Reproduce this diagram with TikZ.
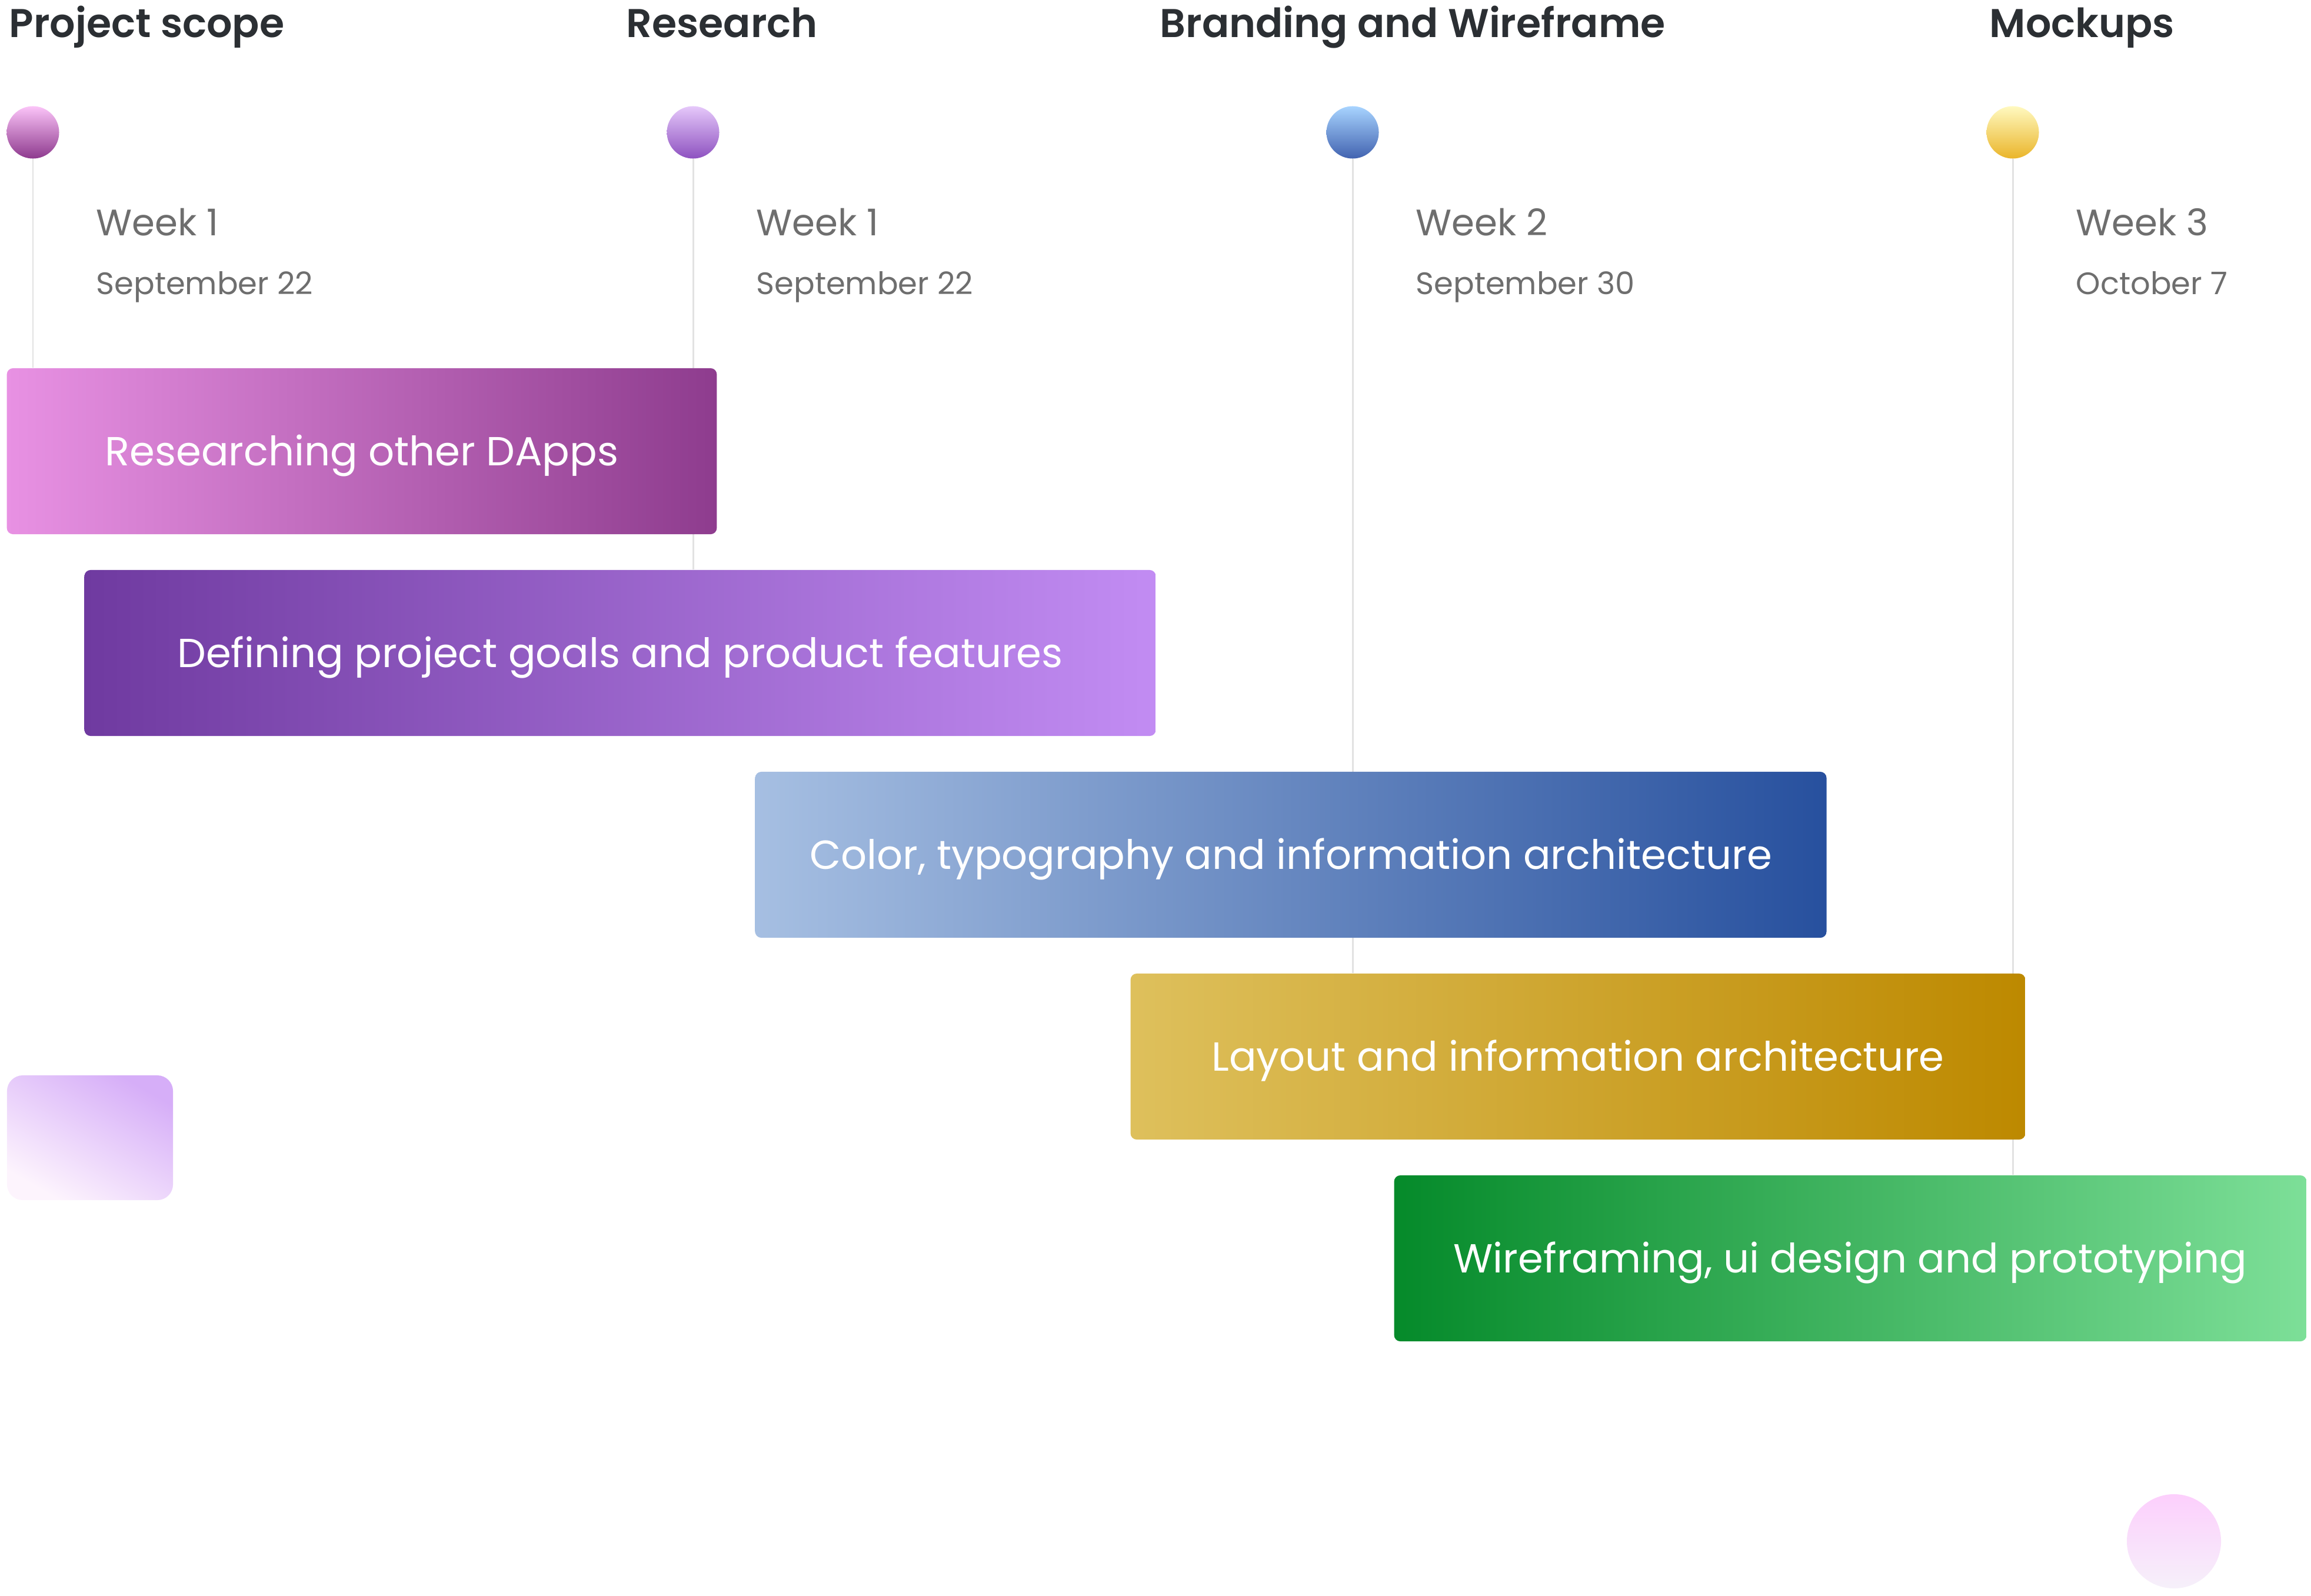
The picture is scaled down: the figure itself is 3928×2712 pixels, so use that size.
\documentclass[tikz,border=0pt]{standalone}
\usepackage{fontspec}
\setmainfont{Poppins}
\newfontfamily\headfont{Poppins SemiBold}
\usetikzlibrary{backgrounds}

\definecolor{headdark}{HTML}{2B2F33}
\definecolor{weekgray}{HTML}{6E6E6E}
\definecolor{railgray}{HTML}{E2E2E2}

\tikzset{
    heading/.style={anchor=base west, inner sep=0pt, text=headdark, font=\headfont\fontsize{19.4}{23}\selectfont},
    week/.style={anchor=base west, inner sep=0pt, text=weekgray, font=\fontsize{17.8}{21}\selectfont},
    date/.style={anchor=base west, inner sep=0pt, text=weekgray, font=\fontsize{15}{18}\selectfont},
    dot/.style={circle, minimum size=0.89cm, inner sep=0pt},
    bar/.style={rounded corners=3pt, minimum height=2.82cm, inner sep=0pt, text=white,
        font=\fontsize{19.6}{24}\selectfont, text height=13.8pt, text depth=0pt},
    rail/.style={draw=railgray, line width=0.85pt}
}

\begin{document}
\begin{tikzpicture}[x=0.01cm, y=-0.01cm]
    \useasboundingbox (0, 0) rectangle (3928, 2712);

    % phase headings
    \node[heading] (head1) at (15, 64) {Project scope};
    \node[heading] (head2) at (1064, 64) {Research};
    \node[heading] (head3) at (1971, 64) {Branding and Wireframe};
    \node[heading] (head4) at (3381, 64) {Mockups};

    % milestone dots
    \node[dot, top color={rgb,255:red,251;green,196;blue,248}, bottom color={rgb,255:red,142;green,58;blue,142}] (dot1) at (56, 225) {};
    \node[dot, top color={rgb,255:red,229;green,200;blue,250}, bottom color={rgb,255:red,142;green,82;blue,192}] (dot2) at (1178, 225) {};
    \node[dot, top color={rgb,255:red,168;green,212;blue,255}, bottom color={rgb,255:red,66;green,99;blue,176}] (dot3) at (2299, 225) {};
    \node[dot, top color={rgb,255:red,255;green,249;blue,192}, bottom color={rgb,255:red,234;green,181;blue,42}] (dot4) at (3421, 225) {};

    % weeks and dates
    \node[week] (week1) at (163, 400) {Week 1};
    \node[week] (week2) at (1285, 400) {Week 1};
    \node[week] (week3) at (2406, 400) {Week 2};
    \node[week] (week4) at (3528, 400) {Week 3};
    \node[date] (date1) at (163, 500) {September 22};
    \node[date] (date2) at (1285, 500) {September 22};
    \node[date] (date3) at (2406, 500) {September 30};
    \node[date] (date4) at (3528, 500) {October 7};

    % task bars
    \node[bar, minimum width=12.06cm, left color={rgb,255:red,232;green,145;blue,227}, right color={rgb,255:red,142;green,60;blue,142}] (bar1) at (615, 767) {Researching other DApps};
    \node[bar, minimum width=18.2cm, left color={rgb,255:red,111;green,58;blue,160}, right color={rgb,255:red,194;green,140;blue,243}] (bar2) at (1054, 1110) {Defining project goals and product features};
    \node[bar, minimum width=18.2cm, left color={rgb,255:red,166;green,191;blue,226}, right color={rgb,255:red,39;green,80;blue,158}] (bar3) at (2194, 1453) {Color, typography and information architecture};
    \node[bar, minimum width=15.2cm, left color={rgb,255:red,222;green,192;blue,92}, right color={rgb,255:red,189;green,137;blue,0}] (bar4) at (2682, 1796) {Layout and information architecture};
    \node[bar, minimum width=15.5cm, left color={rgb,255:red,5;green,138;blue,42}, right color={rgb,255:red,125;green,223;blue,152}] (bar5) at (3145, 2139) {Wireframing, ui design and prototyping};

    % rails behind the bars
    \begin{scope}[on background layer]
        \draw[rail] (dot1.south) -- (dot1.south |- bar1.north);
        \draw[rail] (dot2.south) -- (dot2.south |- bar2.north);
        \draw[rail] (dot3.south) -- (dot3.south |- bar4.north);
        \draw[rail] (dot4.south) -- (dot4.south |- bar5.north);
    \end{scope}

    % faint shapes
    \node[rounded corners=7.6pt, minimum width=2.82cm, minimum height=2.12cm, inner sep=0pt,
        top color={rgb,255:red,214;green,174;blue,248}, bottom color={rgb,255:red,253;green,244;blue,253}, shading angle=-30] (blob1) at (153, 1934) {};
    \node[circle, minimum size=1.6cm, inner sep=0pt,
        top color={rgb,255:red,252;green,207;blue,252}, bottom color={rgb,255:red,246;green,240;blue,250}] (blob2) at (3695, 2620) {};
\end{tikzpicture}
\end{document}
